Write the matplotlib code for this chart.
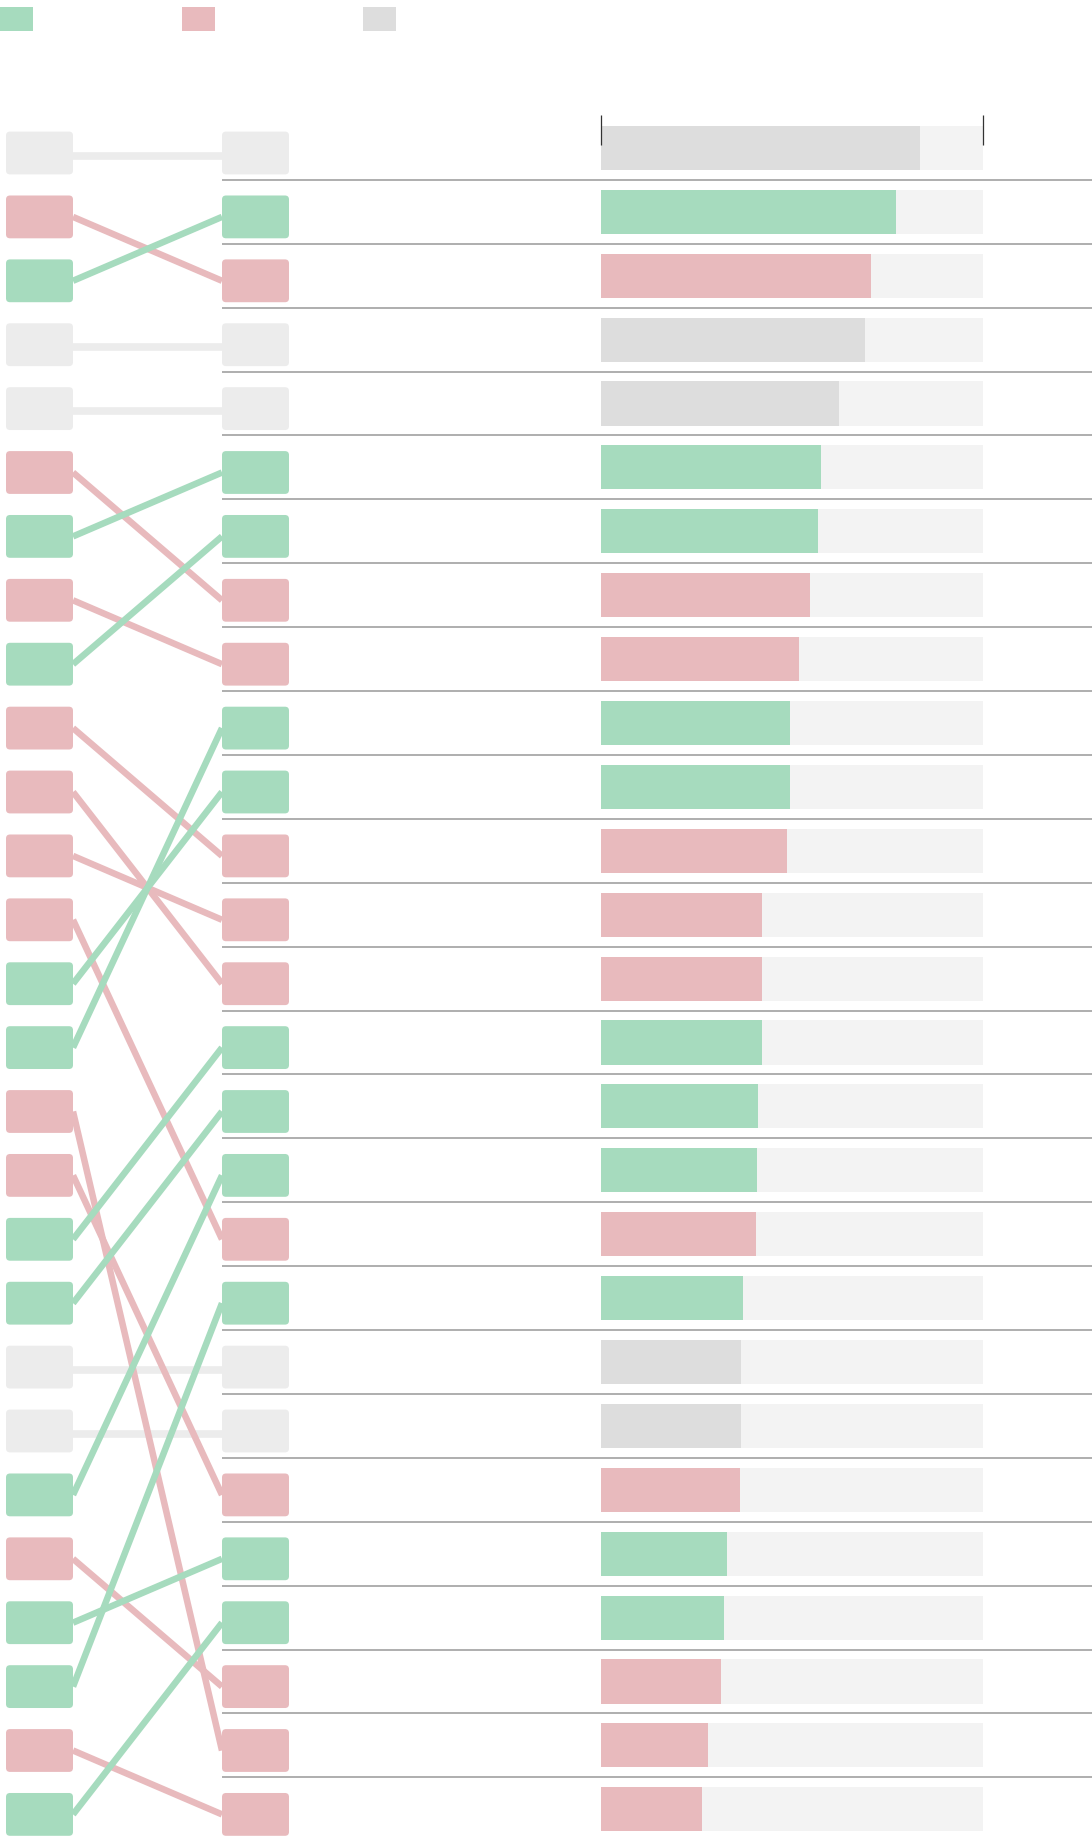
import matplotlib
matplotlib.use('Agg')
import matplotlib.pyplot as plt
from matplotlib.patches import FancyBboxPatch, Rectangle

# group of each item, listed in the order of the previous ranking (left column)
prev_groups = ['neutral', 'pink', 'green', 'neutral', 'neutral', 'pink', 'green', 'pink', 'green',
               'pink', 'pink', 'pink', 'pink', 'green', 'green', 'pink', 'pink', 'green',
               'green', 'neutral', 'neutral', 'green', 'pink', 'green', 'green', 'pink', 'green']
# new rank of each item (same order as prev_groups)
new_ranks = [1, 3, 2, 4, 5, 8, 6, 9, 7, 12, 14, 13, 18, 11, 10, 26, 22, 15, 16, 20, 21, 17,
             25, 23, 19, 27, 24]
# bar values, listed by new rank (0-100 scale)
values = [83.5, 77.1, 70.6, 69.1, 62.3, 57.7, 56.8, 54.7, 51.9, 49.5, 49.5, 48.6, 42.1, 42.1,
          42.1, 41.2, 40.9, 40.6, 37.2, 36.6, 36.6, 36.3, 32.9, 32.3, 31.4, 28.0, 26.5]
legend_groups = ['green', 'pink', 'neutral']

node_colors = {'green': '#a6dbbe', 'pink': '#e8babd', 'neutral': '#ececec'}
bar_colors = {'green': '#a6dbbe', 'pink': '#e8babd', 'neutral': '#dddddd'}

W, H = 1092, 1836
n = len(prev_groups)
row_px = 63.9
first_px = 153
# y limits in rank units so that rank r sits at first_px + (r-1)*row_px pixels
ylim = (1 + (H - first_px) / row_px, 1 - first_px / row_px)

# group for each new rank
new_groups = [None] * n
for i, r in enumerate(new_ranks):
    new_groups[r - 1] = prev_groups[i]

fig = plt.figure(figsize=(W / 100, H / 100), dpi=100)
ax = fig.add_axes([0, 0, 1, 1])
ax.set_xlim(0, W)
ax.set_ylim(*ylim)
ax.axis('off')

left_x0, left_x1 = 6, 73
right_x0, right_x1 = 222, 289
node_h = 0.67

# connecting lines (neutral ones first so colored ones sit on top)
for pass_neutral in [True, False]:
    for i, r in enumerate(new_ranks):
        g = prev_groups[i]
        if (g == 'neutral') != pass_neutral:
            continue
        off = 0.04 if g == 'neutral' else 0
        ax.plot([left_x1, right_x0], [i + 1 + off, r + off], color=node_colors[g],
                lw=5.5 if g == 'neutral' else 4.7, solid_capstyle='butt', zorder=1)

# nodes
def node(x0, y, color):
    p = FancyBboxPatch((x0, y - node_h / 2), left_x1 - left_x0, node_h,
                       boxstyle='round,pad=0,rounding_size=4', mutation_aspect=1 / row_px,
                       facecolor=color, edgecolor='none', zorder=3)
    ax.add_patch(p)

for i, g in enumerate(prev_groups):
    node(left_x0, i + 1, node_colors[g])
for i, g in enumerate(new_groups):
    node(right_x0, i + 1, node_colors[g])

# row separators
ranks = list(range(1, n + 1))
ax.hlines([r + 0.42 for r in ranks[:-1]], right_x0, W, color='#a8a8a8', lw=1.3, zorder=2)

# bars
bx0, bx1 = 601, 983
axb = fig.add_axes([bx0 / W, 0, (bx1 - bx0) / W, 1])
axb.set_xlim(0, 100)
axb.set_ylim(*ylim)
axb.axis('off')
bar_y = [r - 0.08 for r in ranks]
axb.barh(bar_y, [100] * n, height=0.69, color='#f3f3f3', zorder=1)
axb.barh(bar_y, values, height=0.69, color=[bar_colors[g] for g in new_groups], zorder=2)
axb.vlines([0, 100], 1 - 38 / row_px, 1 - 8 / row_px, color='#333333', lw=0.9, zorder=3,
           clip_on=False)

# legend squares
for k, g in enumerate(legend_groups):
    x = 181.5 * k
    fig.add_artist(Rectangle((x / W, 1 - 31 / H), 33 / W, 24 / H, transform=fig.transFigure,
                             facecolor=bar_colors[g], edgecolor='none'))

fig.savefig('out.png', dpi=100)
